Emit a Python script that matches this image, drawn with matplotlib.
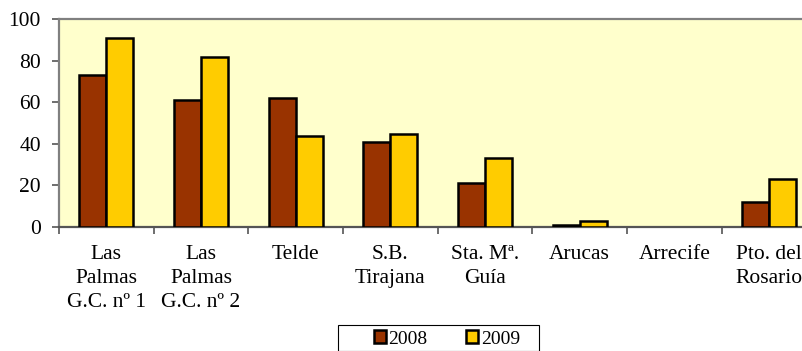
import numpy as np
import matplotlib.pyplot as plt
from matplotlib.patches import Rectangle

plt.rcParams['font.family'] = ['Liberation Serif', 'DejaVu Serif']

categories = ['Las\nPalmas\nG.C. nº 1', 'Las\nPalmas\nG.C. nº 2', 'Telde',
              'S.B.\nTirajana', 'Sta. Mª.\nGuía', 'Arucas', 'Arrecife',
              'Pto. del\nRosario']
vals_2008 = [73, 61, 62, 41, 21, 1, np.nan, 12]
vals_2009 = [91, 82, 44, 45, 33, 3, np.nan, 23]
series_labels = ['2008', '2009']

W, H = 802, 351
fig = plt.figure(figsize=(W / 100, H / 100), dpi=100)
ax = fig.add_axes([59 / W, 1 - 227 / H, (816.4 - 59) / W, (227 - 19.3) / H])
ax.set_facecolor('#FFFFCC')

x = np.arange(len(categories))
bw = 0.285
b1 = ax.bar(x - bw / 2, vals_2008, bw, color='#993300', edgecolor='black',
            linewidth=1.8, label=series_labels[0], zorder=3)
b2 = ax.bar(x + bw / 2, vals_2009, bw, color='#FFCC00', edgecolor='black',
            linewidth=1.8, label=series_labels[1], zorder=3)

ax.set_xlim(-0.5, len(categories) - 0.5)
ax.set_ylim(0, 100)
ax.set_yticks(range(0, 101, 20))

# category boundaries as ticks, names centred between them
ax.set_xticks(np.arange(-0.5, len(categories), 1.0))
ax.set_xticklabels([])
ax.set_xticks(x, minor=True)
ax.set_xticklabels(categories, minor=True, fontsize=15.5, linespacing=1.35)
ax.tick_params(axis='x', which='minor', length=0, pad=13)
ax.tick_params(axis='x', which='major', length=5, width=1.2, color='#555555',
               direction='out')
ax.tick_params(axis='y', length=5, width=1.2, color='#555555', labelsize=15.5,
               pad=8)

for side in ['left', 'bottom', 'top', 'right']:
    ax.spines[side].set_color('#808080')
    ax.spines[side].set_linewidth(1.6)
ax.spines['bottom'].set_color('#555555')

leg = fig.legend(handles=[b1, b2], loc='center',
                 bbox_to_anchor=(447 / W, 1 - 339 / H), ncol=2, frameon=False,
                 fontsize=14, handlelength=0.6, handleheight=0.6,
                 handletextpad=0.15, columnspacing=2.0, borderpad=0.0,
                 borderaxespad=0.0)
fig.patches.append(Rectangle((338 / W, 0), (539 - 338) / W, 1 - 325 / H,
                             transform=fig.transFigure, fill=False,
                             edgecolor='black', linewidth=0.8))

fig.savefig('out.png', dpi=100)
